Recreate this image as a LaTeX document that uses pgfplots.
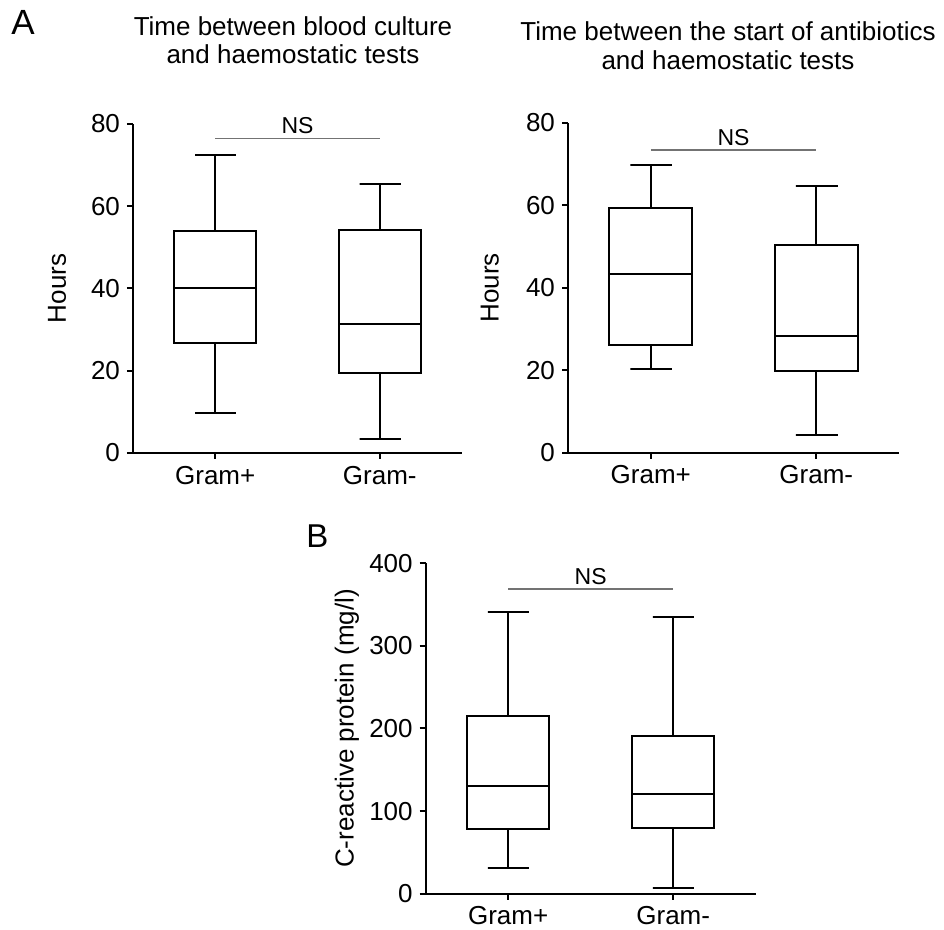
\documentclass[border=0pt]{standalone}
\usepackage{fontspec}
\setmainfont{Liberation Sans}
\usepackage{pgfplots}
\pgfplotsset{compat=1.18}
\definecolor{nsgray}{RGB}{115,115,115}
\newcommand{\tf}{\fontsize{13}{15}\selectfont}
\pgfplotsset{
  gp/.style={
    scale only axis,
    clip=false,
    axis lines=left,
    axis line style={-, line width=1pt, black},
    xmin=0.5, xmax=2.5,
    xtick={1,2}, xticklabels={Gram+,Gram-},
    tick align=outside,
    major tick length=3pt,
    every tick/.style={black, line width=1pt},
    tick label style={font=\tf},
    /pgf/number format/assume math mode=true,
    label style={font=\tf},
  },
  bl/.style={black, line width=1pt, solid, no marks, line join=miter, line cap=rect},
  ns/.style={nsgray, line width=0.7pt, no marks},
}
% box: #1 centre, #2 left, #3 right, #4 cap left, #5 cap right,
%      #6 lower whisker, #7 Q1, #8 median, #9 Q3
\newcommand{\boxdraw}[9]{%
  \addplot[bl] coordinates {(#2,#7) (#3,#7) (#3,#9) (#2,#9) (#2,#7)};
  \addplot[bl] coordinates {(#2,#8) (#3,#8)};
  \addplot[bl] coordinates {(#1,#7) (#1,#6) (#4,#6) (#5,#6)};
}
% upper whisker: #1 centre, #2 Q3, #3 cap left, #4 cap right, #5 upper whisker
\newcommand{\boxup}[5]{%
  \addplot[bl] coordinates {(#1,#2) (#1,#5) (#3,#5) (#4,#5)};
}
\begin{document}
\begin{tikzpicture}
\useasboundingbox (0,-2pt) rectangle (472pt,463pt);
\node[font=\fontsize{17.5}{20}\selectfont] at (11.5pt,452pt) {A};
\node[font=\fontsize{16.5}{20}\selectfont] at (158.7pt,194.7pt) {B};
% Panel A left
\begin{axis}[gp,
  at={(66.5pt,236.5pt)}, anchor=south west,
  width=164.5pt, height=164.5pt,
  ymin=0, ymax=80, ytick={0,20,40,60,80},
  ylabel={Hours},
  every axis y label/.style={at={(axis description cs:-0.231,0.5)}, rotate=90, anchor=center, font=\tf},
  title={Time between blood culture\\and haemostatic tests},
  every axis title/.style={at={(axis description cs:0.5,1)}, anchor=south, inner sep=0pt,
    yshift=29.8pt, xshift=-2.25pt, align=center, font=\fontsize{13}{14}\selectfont},
]
\boxdraw{1}{0.75}{1.25}{0.8775}{1.1225}{9.8}{26.8}{40.2}{53.9}
\boxup{1}{53.9}{0.8775}{1.1225}{72.4}
\boxdraw{2}{1.75}{2.25}{1.8775}{2.1225}{3.5}{19.5}{31.3}{54.3}
\boxup{2}{54.3}{1.8775}{2.1225}{65.3}
\addplot[ns] coordinates {(1,76.5) (2,76.5)};
\node[font=\fontsize{11.5}{13}\selectfont, anchor=south, inner sep=2pt] at (axis cs:1.5,76.5) {NS};
\end{axis}
% Panel A right
\begin{axis}[gp,
  at={(284pt,236.65pt)}, anchor=south west,
  width=165.5pt, height=165pt,
  ymin=0, ymax=80, ytick={0,20,40,60,80},
  ylabel={Hours},
  every axis y label/.style={at={(axis description cs:-0.236,0.5)}, rotate=90, anchor=center, font=\tf},
  title={Time between the start of antibiotics\\and haemostatic tests},
  every axis title/.style={at={(axis description cs:0.5,1)}, anchor=south, inner sep=0pt,
    yshift=26.35pt, xshift=-2.75pt, align=center, font=\fontsize{13}{14.5}\selectfont},
]
\boxdraw{1}{0.75}{1.25}{0.8775}{1.1225}{20.2}{26.0}{43.2}{59.4}
\boxup{1}{59.4}{0.8775}{1.1225}{69.7}
\boxdraw{2}{1.75}{2.25}{1.8775}{2.1225}{4.4}{19.8}{28.2}{50.4}
\boxup{2}{50.4}{1.8775}{2.1225}{64.7}
\addplot[ns] coordinates {(1,73.4) (2,73.4)};
\node[font=\fontsize{11.5}{13}\selectfont, anchor=south, inner sep=2pt] at (axis cs:1.5,73.4) {NS};
\end{axis}
% Panel B
\begin{axis}[gp,
  at={(212.85pt,16.15pt)}, anchor=south west,
  width=165pt, height=165.2pt,
  ymin=0, ymax=400, ytick={0,100,200,300,400},
  ylabel={C-reactive protein (mg/l)},
  every axis y label/.style={at={(axis description cs:-0.239,0.5)}, rotate=90, anchor=center, font=\tf},
]
\boxdraw{1}{0.75}{1.25}{0.8775}{1.1225}{31}{78}{130}{215.5}
\boxup{1}{215.5}{0.8775}{1.1225}{341}
\boxdraw{2}{1.75}{2.25}{1.8775}{2.1225}{7}{79}{121}{191}
\boxup{2}{191}{1.8775}{2.1225}{335}
\addplot[ns] coordinates {(1,369) (2,369)};
\node[font=\fontsize{11.5}{13}\selectfont, anchor=south, inner sep=2pt] at (axis cs:1.5,369) {NS};
\end{axis}
\end{tikzpicture}
\end{document}
